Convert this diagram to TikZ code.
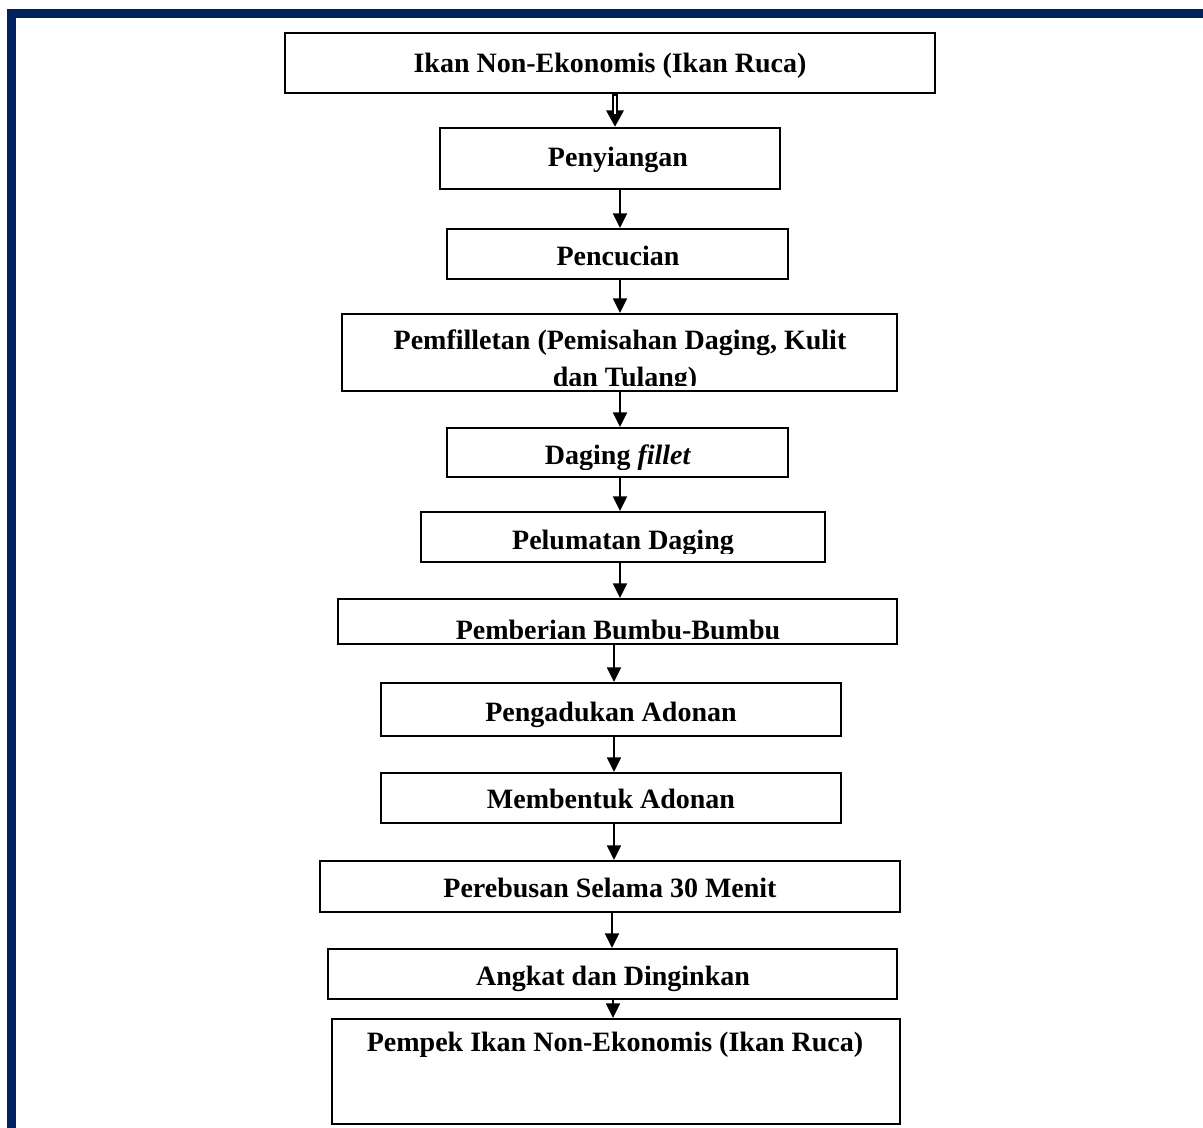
\documentclass[tikz,border=0pt]{standalone}
\usepackage{fontspec}
\setmainfont{Liberation Serif}
\usetikzlibrary{arrows.meta,calc}
\definecolor{bordernavy}{RGB}{0,32,96}
\newcommand{\mkbox}[5]{\node[stepbox, minimum width={(#4-#2)*0.75pt}, minimum height={(#5-#3)*0.75pt}] (#1) at ({(#2+#4)/2},{(#3+#5)/2}) {};}
\begin{document}
\begin{tikzpicture}[x=0.75pt, y=-0.75pt,
  stepbox/.style={draw=black, line width=1.5pt, rectangle, inner sep=0pt, fill=white},
  lbl/.style={font=\fontsize{21}{24}\selectfont\bfseries, anchor=base, inner sep=0pt},
  arr/.style={line width=1.3pt, -{Triangle[length=11pt, width=10.5pt]}},
  dblarr/.style={line width=4.4pt, -{Triangle[length=12.5pt, width=12.5pt]}}]
\useasboundingbox (0,0) rectangle (1203,1128);
% page border
\fill[bordernavy] (7,9) rectangle (1203,18);
\fill[bordernavy] (7,9) rectangle (16,1128);
% boxes
\mkbox{b1}{285}{33}{935}{93}
\mkbox{b2}{440}{128}{780}{189}
\mkbox{b3}{447}{229}{788}{279}
\mkbox{b4}{342}{314}{897}{391}
\mkbox{b5}{447}{428}{788}{477}
\mkbox{b6}{421}{512}{825}{562}
\mkbox{b7}{338}{599}{897}{644}
\mkbox{b8}{381}{683}{841}{736}
\mkbox{b9}{381}{773}{841}{823}
\mkbox{b10}{320}{861}{900}{912}
\mkbox{b11}{328}{949}{897}{999}
\mkbox{b12}{332}{1019}{900}{1124}
% labels
\node[lbl] (t1) at (610,72) {Ikan Non-Ekonomis (Ikan Ruca)};
\node[lbl] (t2) at (618,166) {Penyiangan};
\node[lbl] (t3) at (618,265) {Pencucian};
\begin{scope}
  \clip (b4.north west) rectangle ($(b4.south east)+(0,-7)$);
  \node[lbl] (t4a) at (620,349) {Pemfilletan (Pemisahan Daging, Kulit};
  \node[lbl] (t4b) at (625,386) {dan Tulang)};
\end{scope}
\begin{scope}
  \clip (b5.north west) rectangle ($(b5.south east)+(0,-9)$);
  \node[lbl] (t5) at (618,464) {Daging \textit{fillet}};
\end{scope}
\begin{scope}
  \clip (b6.north west) rectangle ($(b6.south east)+(0,-10)$);
  \node[lbl] (t6) at (623,549) {Pelumatan Daging};
\end{scope}
\begin{scope}
  \clip (b7.north west) rectangle ($(b7.south east)+(0,-7)$);
  \node[lbl] (t7) at (618,639) {Pemberian Bumbu-Bumbu};
\end{scope}
\node[lbl] (t8) at (611,721) {Pengadukan Adonan};
\node[lbl] (t9) at (611,808) {Membentuk Adonan};
\node[lbl] (t10) at (610,897) {Perebusan Selama 30 Menit};
\node[lbl] (t11) at (613,985) {Angkat dan Dinginkan};
\node[lbl] (t12) at (615,1051) {Pempek Ikan Non-Ekonomis (Ikan Ruca)};
% arrow columns
\coordinate (xa) at (615,0);
\coordinate (xb) at (620,0);
\coordinate (xc) at (614,0);
\coordinate (xd) at (612,0);
\coordinate (xe) at (613,0);
% connectors
\draw[dblarr] (b1.south -| xa) -- (b2.north -| xa);
\draw[white, line width=1.3pt] ($(b1.south -| xa)+(0,1.5)$) -- ++(0,18);
\draw[arr] (b2.south -| xb) -- (b3.north -| xb);
\draw[arr] (b3.south -| xb) -- (b4.north -| xb);
\draw[arr] (b4.south -| xb) -- (b5.north -| xb);
\draw[arr] (b5.south -| xb) -- (b6.north -| xb);
\draw[arr] (b6.south -| xb) -- (b7.north -| xb);
\draw[arr] (b7.south -| xc) -- (b8.north -| xc);
\draw[arr] (b8.south -| xc) -- (b9.north -| xc);
\draw[arr] (b9.south -| xc) -- (b10.north -| xc);
\draw[arr] (b10.south -| xd) -- (b11.north -| xd);
\draw[arr] (b11.south -| xe) -- (b12.north -| xe);
\end{tikzpicture}
\end{document}
